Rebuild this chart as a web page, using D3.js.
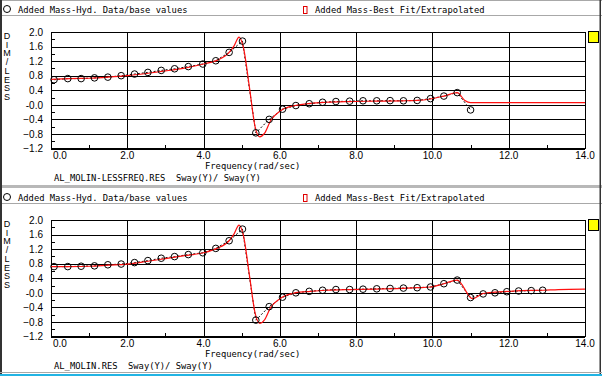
<!DOCTYPE html>
<html>
<head>
<meta charset="utf-8">
<script src="https://cdn.jsdelivr.net/npm/d3@7"></script>
<style>
  body { margin: 0; background: #fff; }
  svg text { font-family: "Liberation Sans", Arial, sans-serif; font-size: 10px; fill: #000; }
  svg text.mono { font-family: "DejaVu Sans Mono", monospace; font-size: 8.8px; }
</style>
</head>
<body>
<div id="chart"></div>
<script>
// measured data, top plot (LESSFREQ file)
var freqTop = [0.08,0.44,0.79,1.14,1.49,1.84,2.19,2.54,2.89,3.24,3.6,3.98,4.32,4.67,5.02,5.37,5.72,6.07,6.42,6.77,7.12,7.47,7.83,8.18,8.54,8.89,9.24,9.6,9.95,10.3,10.65,11.0];
var massTop = [0.69,0.72,0.72,0.74,0.76,0.80,0.845,0.89,0.945,0.99,1.05,1.12,1.21,1.44,1.75,-0.77,-0.40,-0.12,-0.02,0.03,0.07,0.09,0.10,0.11,0.11,0.115,0.11,0.12,0.17,0.24,0.335,-0.14];
var fitFreqTop = [0.0,0.5,1.0,1.5,2.0,2.5,3.0,3.5,4.0,4.35,4.67,4.8,4.93,5.05,5.2,5.35,5.47,5.6,5.75,6.05,6.4,6.8,7.2,7.8,8.5,9.2,9.6,9.95,10.3,10.65,10.85,11.0,12.0,14.0];
var fitTop = [0.70,0.72,0.73,0.76,0.80,0.86,0.93,1.01,1.12,1.22,1.44,1.62,1.86,1.55,0.50,-0.60,-0.88,-0.78,-0.45,-0.14,-0.02,0.04,0.07,0.09,0.10,0.11,0.12,0.16,0.24,0.335,0.12,0.06,0.06,0.06];

// bottom plot (full file)
var freqBot = [0.08,0.44,0.79,1.14,1.49,1.84,2.19,2.54,2.89,3.24,3.6,3.98,4.32,4.67,5.02,5.37,5.72,6.07,6.42,6.77,7.12,7.47,7.83,8.18,8.54,8.89,9.24,9.6,9.95,10.3,10.65,11.0,11.33,11.64,11.95,12.26,12.59,12.89];
var massBot = [0.72,0.72,0.73,0.74,0.77,0.79,0.83,0.885,0.95,0.995,1.05,1.10,1.22,1.43,1.75,-0.75,-0.38,-0.12,0.0,0.04,0.07,0.09,0.09,0.10,0.11,0.12,0.13,0.14,0.16,0.25,0.35,-0.13,-0.03,0.0,0.03,0.05,0.06,0.07];
var fitFreqBot = [0.0,0.5,1.0,1.5,2.0,2.5,3.0,3.5,4.0,4.35,4.67,4.8,4.93,5.05,5.2,5.35,5.47,5.6,5.75,6.05,6.4,6.8,7.2,7.8,8.5,9.2,9.6,9.95,10.3,10.65,11.05,11.33,11.64,12.0,12.3,12.9,13.3,14.0];
var fitBot = [0.72,0.72,0.73,0.76,0.79,0.86,0.94,1.02,1.10,1.22,1.43,1.62,1.86,1.55,0.50,-0.55,-0.84,-0.74,-0.42,-0.13,0.0,0.04,0.07,0.09,0.10,0.12,0.14,0.16,0.25,0.35,-0.16,-0.02,0.02,0.04,0.06,0.07,0.09,0.10];

var xTicks = [0,2,4,6,8,10,12,14];
var xMinor = [1,3,5,7,9,11,13];
var yTicks = [2.0,1.6,1.2,0.8,0.4,0.0,-0.4,-0.8,-1.2];
var yMinor = [1.8,1.4,1.0,0.6,0.2,-0.2,-0.6,-1.0];

var legendData = "Added Mass-Hyd. Data/base values";
var legendFit = "Added Mass-Best Fit/Extrapolated";
var xTitle = "Frequency(rad/sec)";
var yTitle = "DIM/LESS";

var W = 602, H = 376;
var margin = {left: 51, right: 17, top: 32};
var plotH = 116.5;

var svg = d3.select("#chart").append("svg")
  .attr("width", W)
  .attr("height", H);

var x = d3.scaleLinear().domain([0, 14]).range([margin.left, W - margin.right]);

function blackLines(s) {
  s.select(".domain").remove();
  s.selectAll("line").attr("stroke", "#000").attr("shape-rendering", "crispEdges");
}

function drawPanel(oy, freq, mass, fitFreq, fit, fileName, fileX) {
  var g = svg.append("g").attr("transform", "translate(0," + oy + ")");
  var y = d3.scaleLinear().domain([-1.2, 2.0]).range([margin.top + plotH, margin.top]);
  var x0 = x.range()[0], x1 = x.range()[1];

  // header strip with legend
  g.append("line").attr("x1", 0).attr("x2", W).attr("y1", 15.5).attr("y2", 15.5)
    .attr("stroke", "#a8a8a8");
  g.append("circle").attr("cx", 7).attr("cy", 9).attr("r", 3.5)
    .attr("fill", "none").attr("stroke", "#000");
  g.append("text").attr("class", "mono").attr("x", 18).attr("y", 12.5).text(legendData);
  g.append("rect").attr("x", 303.5).attr("y", 6.5).attr("width", 3.5).attr("height", 7)
    .attr("fill", "none").attr("stroke", "#e00000");
  g.append("text").attr("class", "mono").attr("x", 315).attr("y", 12.5).text(legendFit);

  // gridlines via axes
  g.append("g").attr("transform", "translate(0," + (margin.top + plotH) + ")")
    .call(d3.axisBottom(x).tickValues(xTicks).tickSize(-plotH).tickFormat(""))
    .call(blackLines);

  var yAxis = d3.axisLeft(y).tickValues(yTicks).tickSize(-(x1 - x0)).tickPadding(8)
    .tickFormat(function(d) { return d === 0 ? "-0.0" : d3.format(".1f")(d); });
  g.append("g").attr("transform", "translate(" + x0 + ",0)")
    .call(yAxis)
    .call(blackLines)
    .call(function(s) { s.selectAll("text").attr("font-family", null).attr("font-size", null); });

  // minor ticks
  g.append("g").attr("transform", "translate(0," + (margin.top + plotH) + ")")
    .call(d3.axisBottom(x).tickValues(xMinor).tickSize(-4).tickFormat(""))
    .call(blackLines);
  g.append("g").attr("transform", "translate(" + x0 + ",0)")
    .call(d3.axisLeft(y).tickValues(yMinor).tickSize(-4).tickFormat(""))
    .call(blackLines);

  // frame
  g.append("rect").attr("x", x0).attr("y", margin.top).attr("width", x1 - x0).attr("height", plotH)
    .attr("fill", "none").attr("stroke", "#000").attr("shape-rendering", "crispEdges");

  // x tick labels
  g.selectAll(".xl").data(xTicks).enter().append("text")
    .attr("x", function(d) { return d === 0 ? x(d) + 2 : x(d); })
    .attr("y", margin.top + plotH + 10)
    .attr("text-anchor", function(d) { return d === 0 ? "start" : "middle"; })
    .text(function(d) { return d3.format(".1f")(d); });

  g.append("text").attr("class", "mono").attr("x", 205).attr("y", margin.top + plotH + 20.5).text(xTitle);
  g.append("text").attr("class", "mono").attr("x", 54).attr("y", margin.top + plotH + 32).text(fileName);
  g.append("text").attr("class", "mono").attr("x", fileX).attr("y", margin.top + plotH + 32).text("Sway(Y)/ Sway(Y)");

  // y title, stacked letters
  g.selectAll(".yt").data(yTitle.split("")).enter().append("text")
    .attr("x", 7).attr("y", function(d, i) { return margin.top + 7 + i * 8.7; })
    .attr("text-anchor", "middle").style("font-size", "9px")
    .text(function(d) { return d; });

  // yellow box
  g.append("rect").attr("x", 588.5).attr("y", 31.5).attr("width", 10).attr("height", 11)
    .attr("fill", "#ffff00").attr("stroke", "#000");

  var dataLine = d3.line()
    .x(function(d, i) { return x(freq[i]); })
    .y(function(d) { return y(d); });
  g.append("path").datum(mass).attr("d", dataLine)
    .attr("fill", "none").attr("stroke", "#000").attr("stroke-dasharray", "2,2");

  var fitLine = d3.line()
    .x(function(d, i) { return x(fitFreq[i]); })
    .y(function(d) { return y(d); })
    .curve(d3.curveMonotoneX);
  g.append("path").datum(fit).attr("d", fitLine)
    .attr("fill", "none").attr("stroke", "#ff1010").attr("stroke-width", 1.2);

  g.selectAll(".pt").data(mass).enter().append("circle")
    .attr("cx", function(d, i) { return x(freq[i]); })
    .attr("cy", function(d) { return y(d); })
    .attr("r", 3.3)
    .attr("fill", "none").attr("stroke", "#000");
}

// window chrome
svg.append("line").attr("x1", 0).attr("x2", W).attr("y1", 0.5).attr("y2", 0.5).attr("stroke", "#a8a8a8");
svg.append("rect").attr("x", 0).attr("y", 185).attr("width", W).attr("height", 3).attr("fill", "#b8b8b8");

drawPanel(0, freqTop, massTop, fitFreqTop, fitTop, "AL_MOLIN-LESSFREQ.RES", 176);
drawPanel(188, freqBot, massBot, fitFreqBot, fitBot, "AL_MOLIN.RES", 128);

svg.append("rect").attr("x", 0).attr("y", 0).attr("width", 2).attr("height", H).attr("fill", "#333");
svg.append("rect").attr("x", 599.5).attr("y", 0).attr("width", 1.5).attr("height", H).attr("fill", "#333");
svg.append("line").attr("x1", 0).attr("x2", W).attr("y1", 372.5).attr("y2", 372.5).attr("stroke", "#a8a8a8");
svg.append("rect").attr("x", 0).attr("y", 374).attr("width", W).attr("height", 2).attr("fill", "#22b4e4");
</script>
</body>
</html>
